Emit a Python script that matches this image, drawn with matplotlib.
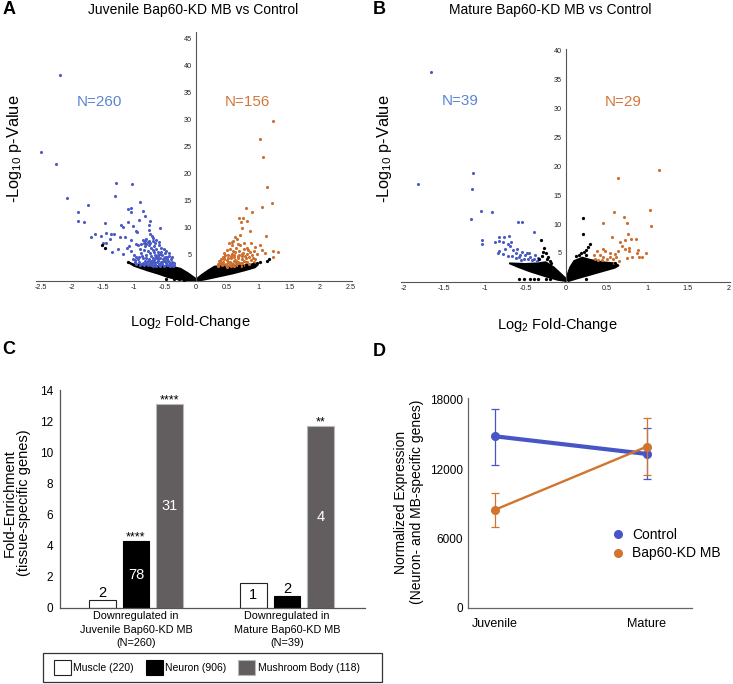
import matplotlib
matplotlib.use("Agg")
import matplotlib.pyplot as plt
from matplotlib.patches import Patch, Rectangle
from matplotlib.lines import Line2D

plt.rcParams['font.family'] = ['Liberation Sans', 'DejaVu Sans']
plt.rcParams['mathtext.default'] = 'regular'

W, H = 733, 684

# ---------------- Panel A data (Juvenile) ----------------
juv_down_lfc = [-2.19, -2.50, -2.25, -2.08, -1.29, -1.03, -1.30, -0.91, -1.74, -1.91, -1.90, -1.80,
                -1.46, -1.10, -1.05, -1.04, -0.86, -0.92, -0.82, -0.74, -1.10, -1.21, -1.17, -1.02,
                -0.58, -1.69, -1.63, -1.53, -1.45, -1.37, -1.32, -1.38, -1.50, -1.45, -1.35, -1.26,
                -1.22, -1.15, -1.05, -0.97, -0.95, -1.12, -1.08, -1.05, -0.75, -0.76, -0.74, -0.71,
                -0.97, -0.86, -0.82, -0.80, -0.76, -1.18, -1.00, -1.02, -0.96,
                -0.80, -0.78, -0.74, -0.70, -0.66, -0.68, -0.72, -0.76, -0.82, -0.84, -0.78, -0.74,
                -0.70, -0.64, -0.62, -0.60, -0.58, -0.66, -0.72, -0.80, -0.88, -0.92, -0.86, -0.82,
                -0.76, -0.70, -0.64, -0.58, -0.54, -0.50, -0.46, -0.52, -0.56, -0.62, -0.68, -0.74,
                -0.80, -0.86, -0.92, -0.96, -0.98, -0.90, -0.84, -0.78, -0.72, -0.66, -0.60, -0.54,
                -0.48, -0.44, -0.40, -0.42, -0.46, -0.52, -0.58, -0.64, -0.70, -0.50, -0.56, -0.50,
                -0.44, -0.40, -0.38, -0.36, -0.62, -0.68, -0.90, -0.94, -0.60, -0.56, -0.52, -0.48,
                -0.44, -0.64, -0.70, -0.84, -0.88, -0.79, -0.67, -0.61, -0.53, -0.47, -0.41, -0.39,
                -0.57, -0.63, -0.69, -0.75, -0.81, -0.87, -0.93, -0.99, -0.89, -0.83, -0.77, -0.71,
                -0.35, -0.37, -0.43, -0.49, -0.55, -0.61, -0.67, -0.73, -0.59, -0.65, -0.51, -0.45]
juv_down_p = [38.2, 24.0, 21.6, 15.4, 18.2, 18.0, 15.8, 14.6, 14.0, 12.8, 11.1, 10.9,
              10.7, 13.4, 13.6, 12.8, 13.0, 11.4, 12.0, 11.2, 10.9, 10.3, 10.0, 10.2,
              9.8, 8.1, 8.7, 8.3, 8.9, 8.8, 8.8, 7.8, 7.0, 7.0, 5.3, 5.9,
              8.2, 8.1, 7.6, 9.3, 9.0, 6.1, 6.5, 5.6, 10.3, 9.4, 8.7, 8.3,
              6.8, 7.6, 7.5, 6.9, 7.5, 5.0, 4.8, 4.0, 4.4,
              7.8, 7.2, 7.0, 7.4, 7.0, 6.5, 6.2, 6.6, 6.4, 5.8, 5.6, 5.2,
              5.8, 6.0, 5.4, 6.6, 5.0, 4.8, 4.6, 4.9, 5.2, 4.5, 4.2, 3.8,
              4.0, 4.2, 4.4, 4.2, 4.8, 4.4, 4.0, 3.8, 3.6, 3.8, 3.6, 3.4,
              3.3, 3.4, 3.5, 3.2, 3.9, 3.0, 3.0, 2.9, 3.0, 3.1, 3.2, 3.1,
              3.3, 3.5, 3.2, 2.8, 2.9, 2.8, 2.8, 2.8, 2.7, 3.7, 5.4, 5.2,
              4.6, 4.0, 3.6, 3.0, 4.9, 5.4, 6.0, 6.6, 7.2, 6.2, 6.0, 5.6,
              5.2, 7.6, 8.0, 7.0, 6.8, 3.6, 3.9, 4.7, 4.1, 4.5, 3.4, 4.4,
              3.4, 3.5, 3.9, 3.1, 4.3, 4.7, 4.0, 3.6, 3.2, 3.1, 3.7, 3.3,
              3.3, 2.7, 3.0, 4.2, 3.5, 4.0, 3.3, 3.7, 2.9, 4.3, 4.3, 3.8]

juv_up_lfc = [1.25, 1.04, 1.08, 1.14, 1.22, 1.06, 0.81, 0.90, 0.70, 0.76, 0.73, 0.82,
              0.75, 0.87, 1.13, 0.63, 0.71, 0.58, 1.25, 1.33, 1.24, 1.12,
              0.89, 0.95, 1.03, 1.06, 0.83, 0.79, 0.87, 0.92,
              0.36, 0.38, 0.40, 0.42, 0.44, 0.46, 0.48, 0.50, 0.52, 0.54, 0.55, 0.56,
              0.58, 0.60, 0.61, 0.62, 0.63, 0.64, 0.66, 0.67, 0.68, 0.69, 0.70, 0.71,
              0.72, 0.74, 0.75, 0.76, 0.77, 0.78, 0.80, 0.81, 0.82, 0.84, 0.85, 0.88,
              0.90, 0.93, 0.96, 0.99, 0.45, 0.50, 0.55, 0.58, 0.60, 0.66, 0.68, 0.53,
              0.47, 0.43, 0.39, 0.57, 0.65, 0.73, 0.79, 0.62, 0.50, 0.35, 0.59, 0.74,
              0.41, 0.49, 0.56, 0.64, 0.70, 0.77, 0.52, 0.45, 0.61, 0.67, 0.86, 0.94,
              0.37, 0.43, 0.51, 0.57, 0.63, 0.69, 0.75, 0.83]
juv_up_p = [29.7, 26.3, 23.0, 17.5, 14.4, 13.7, 13.5, 12.7, 11.7, 11.6, 11.0, 11.1,
            9.8, 9.3, 8.4, 8.2, 8.5, 7.3, 5.6, 5.3, 4.5, 5.1,
            7.0, 6.3, 6.6, 5.8, 6.1, 4.6, 5.3, 4.3,
            2.8, 3.4, 4.0, 3.0, 3.6, 4.4, 3.2, 3.9, 4.8, 2.9, 3.5, 4.2,
            5.0, 3.1, 3.8, 4.5, 5.4, 6.2, 2.9, 3.6, 4.2, 4.9, 5.6, 6.6,
            3.3, 4.0, 4.6, 5.2, 6.0, 7.0, 3.5, 4.2, 5.0, 5.7, 3.1, 3.9,
            4.8, 3.5, 4.1, 5.0, 5.2, 5.8, 6.0, 6.6, 7.4, 7.8, 6.8, 7.0,
            4.8, 4.4, 3.8, 3.3, 3.3, 2.8, 2.9, 2.7, 2.6, 3.2, 5.6, 5.0,
            3.3, 2.9, 2.7, 3.7, 3.2, 3.7, 3.5, 4.0, 4.9, 4.6, 4.4, 5.5,
            3.7, 3.1, 4.3, 4.6, 3.9, 3.4, 3.3, 3.6]

juv_ns_lfc = [-1.52, -1.47, -1.09, -0.48, -0.36, -0.28, -0.20, 0.98, 1.03, 1.17, 1.14, 0.92, 0.80, 0.70]
juv_ns_p = [6.6, 6.2, 3.5, 0.3, 0.3, 0.3, 0.2, 3.3, 3.6, 4.0, 3.8, 3.1, 2.9, 2.8]

# dense non-significant cloud (outline of the black region)
juv_cloud_left_lfc = [-1.10, -1.00, -0.80, -0.60, -0.40, -0.25, -0.12, 0.00, 0.00, -0.10, -0.30,
                      -0.45, -0.60, -0.80, -1.00]
juv_cloud_left_p = [3.5, 3.1, 2.9, 2.8, 2.7, 2.3, 1.4, 0.4, 0.05, 0.1, 0.3,
                    0.7, 1.3, 2.0, 2.8]
juv_cloud_right_lfc = [0.00, 0.10, 0.20, 0.30, 0.50, 0.80, 0.95, 1.00, 0.95, 0.80, 0.60, 0.40,
                       0.20, 0.05]
juv_cloud_right_p = [0.3, 1.2, 2.0, 2.7, 2.8, 2.9, 3.2, 3.0, 2.5, 2.0, 1.4, 0.9,
                     0.4, 0.05]

# ---------------- Panel B data (Mature) ----------------
mat_down_lfc = [-1.66, -1.82, -1.15, -1.16, -1.05, -0.91, -1.17, -0.59, -0.54, -0.39, -1.03, -1.03,
                -0.70, -0.76, -0.83, -0.83, -0.87, -0.77, -0.72, -0.68, -0.69, -0.75, -0.82, -0.84,
                -0.78, -0.72, -0.65, -0.60, -0.61, -0.58, -0.54, -0.55, -0.50, -0.44, -0.38, -0.40,
                -0.35, -0.47, -0.52, -0.62, -0.66, -0.48, -0.42, -0.36, -0.57, -0.45]
mat_down_p = [36.4, 17.0, 18.9, 16.1, 12.3, 12.1, 10.9, 10.4, 10.4, 8.7, 7.2, 6.5,
              8.0, 7.7, 7.7, 7.0, 6.8, 6.9, 6.5, 6.8, 6.2, 5.6, 5.3, 5.0,
              4.8, 4.5, 5.5, 5.7, 4.9, 4.3, 5.1, 3.8, 4.6, 4.3, 4.7, 3.9,
              4.1, 3.9, 3.9, 4.1, 4.4, 4.9, 3.7, 3.6, 4.7, 5.0]

mat_up_lfc = [1.15, 0.64, 1.03, 0.59, 0.71, 1.05, 0.75, 0.46, 0.57, 0.76, 0.67, 0.73,
              0.80, 0.86, 0.69, 0.73, 0.77, 0.77, 0.87, 0.81, 0.75, 0.60, 0.54, 0.48,
              0.45, 0.38, 0.35, 0.42, 0.46, 0.50, 0.54, 0.58, 0.62, 0.65, 0.59, 0.39,
              0.44, 0.36, 0.98, 0.94, 0.90, 0.89, 0.64]
mat_up_p = [19.4, 17.9, 12.4, 12.1, 11.2, 9.7, 10.1, 10.2, 7.8, 8.3, 6.8, 7.3,
            7.4, 7.4, 6.2, 5.6, 5.9, 5.4, 4.9, 4.2, 4.1, 4.8, 4.9, 5.4,
            5.6, 5.4, 4.6, 4.6, 4.3, 4.0, 4.3, 3.9, 4.2, 3.6, 3.2, 3.7,
            3.7, 4.0, 4.9, 4.2, 4.2, 5.5, 5.4]

mat_ns_lfc = [-0.31, -0.27, -0.28, -0.25, -0.22, -0.30, -0.24, -0.33, -0.20, -0.18,
              -0.58, -0.52, -0.44, -0.39, -0.35, -0.25, -0.20,
              0.21, 0.21, 0.30, 0.27, 0.25, 0.22, 0.19, 0.16, 0.24, 0.12, 0.60, 0.25]
mat_ns_p = [7.2, 5.9, 5.2, 4.9, 4.3, 4.5, 3.9, 4.0, 3.6, 3.2,
            0.4, 0.4, 0.4, 0.4, 0.4, 0.4, 0.4,
            11.1, 8.3, 6.6, 6.0, 5.5, 5.2, 4.9, 4.6, 4.7, 4.4, 3.3, 0.5]

mat_cloud_left_lfc = [-0.70, -0.50, -0.35, -0.25, -0.15, -0.05, 0.00, 0.00, -0.10, -0.25,
                      -0.45, -0.60]
mat_cloud_left_p = [3.2, 3.1, 3.2, 3.4, 2.5, 1.2, 0.5, 0.1, 0.3, 0.9,
                    1.8, 2.6]
mat_cloud_right_lfc = [0.00, 0.05, 0.10, 0.20, 0.30, 0.45, 0.60, 0.65, 0.60, 0.45, 0.30, 0.15, 0.03]
mat_cloud_right_p = [0.5, 2.5, 3.6, 4.2, 3.8, 3.4, 3.2, 2.8, 2.4, 1.8, 1.2, 0.6, 0.1]

# ---------------- Panel C data ----------------
tissues = ['Muscle (220)', 'Neuron (906)', 'Mushroom Body (118)']
comparisons = ['Downregulated in\nJuvenile Bap60-KD MB\n(N=260)',
               'Downregulated in\nMature Bap60-KD MB\n(N=39)']
fold_juvenile = [0.49, 4.28, 13.12]
fold_mature = [1.61, 0.77, 11.72]
count_juvenile = [2, 78, 31]
count_mature = [1, 2, 4]
signif_juvenile = ['', '****', '****']
signif_mature = ['', '', '**']
c_yticks = [0, 2, 4, 6, 8, 10, 12, 14]

# ---------------- Panel D data ----------------
stages = ['Juvenile', 'Mature']
control_mean = [14860, 13330]
control_upper = [17220, 15550]
control_lower = [12360, 11150]
bap60_mean = [8500, 13970]
bap60_upper = [9910, 16420]
bap60_lower = [7030, 11550]
d_yticks = [0, 6000, 12000, 18000]

# colours
BLUE_PT = '#4a5bc6'
ORANGE_PT = '#cc6e2c'
BLUE_TXT = '#5d84d6'
ORANGE_TXT = '#d4773a'
LINE_BLUE = '#4656c6'
LINE_ORANGE = '#d0742f'
MB_GRAY = '#625e5f'

fig = plt.figure(figsize=(W / 100, H / 100), dpi=100)


def rect(l, t, r, b):
    return [l / W, 1 - b / H, (r - l) / W, (b - t) / H]


def volcano(ax, down_x, down_y, up_x, up_y, ns_x, ns_y, clouds, xlim, ylim,
            xticks, xticklabels, yticks, n_down, n_up, n_down_pos, n_up_pos):
    ax.set_xlim(*xlim)
    ax.set_ylim(*ylim)
    for cx, cy in clouds:
        ax.fill(cx, cy, facecolor='black', edgecolor='black', linewidth=1.2, zorder=2)
    ax.scatter(down_x, down_y, s=5, color=BLUE_PT, linewidths=0, zorder=3)
    ax.scatter(up_x, up_y, s=5, color=ORANGE_PT, linewidths=0, zorder=3)
    ax.scatter(ns_x, ns_y, s=5.5, color='black', linewidths=0, zorder=4)
    for sp in ['top', 'right']:
        ax.spines[sp].set_visible(False)
    ax.spines['left'].set_position(('data', 0))
    for sp in ['left', 'bottom']:
        ax.spines[sp].set_color('#555555')
        ax.spines[sp].set_linewidth(0.8)
    ax.set_xticks(xticks)
    ax.set_xticklabels(xticklabels)
    ax.set_yticks(yticks)
    ax.set_yticklabels([str(v) for v in yticks])
    ax.tick_params(axis='x', length=0, labelsize=5.2, pad=2.5, labelcolor='#222222')
    ax.tick_params(axis='y', length=0, labelsize=5.2, pad=3, labelcolor='#222222')
    ax.text(n_down_pos[0], n_down_pos[1], 'N=%d' % n_down, color=BLUE_TXT, fontsize=11,
            ha='center', va='center')
    ax.text(n_up_pos[0], n_up_pos[1], 'N=%d' % n_up, color=ORANGE_TXT, fontsize=11,
            ha='center', va='center')
    ax.patch.set_alpha(0)


# ---- Panel A ----
axA = fig.add_axes(rect(36.0, 31.8, 352.2, 281.0))
volcano(axA, juv_down_lfc, juv_down_p, juv_up_lfc, juv_up_p, juv_ns_lfc, juv_ns_p,
        [(juv_cloud_left_lfc, juv_cloud_left_p), (juv_cloud_right_lfc, juv_cloud_right_p)],
        (-2.58, 2.52), (0, 46.2),
        [-2.5, -2, -1.5, -1, -0.5, 0, 0.5, 1, 1.5, 2, 2.5],
        ['-2.5', '-2', '-1.5', '-1', '-0.5', '0', '0.5', '1', '1.5', '2', '2.5'],
        [5, 10, 15, 20, 25, 30, 35, 40, 45], 260, 156, (-1.55, 33.2), (0.83, 33.2))

# ---- Panel B ----
axB = fig.add_axes(rect(401.1, 48.6, 730.1, 281.7))
volcano(axB, mat_down_lfc, mat_down_p, mat_up_lfc, mat_up_p, mat_ns_lfc, mat_ns_p,
        [(mat_cloud_left_lfc, mat_cloud_left_p), (mat_cloud_right_lfc, mat_cloud_right_p)],
        (-2.03, 2.02), (0, 40.4),
        [-2, -1.5, -1, -0.5, 0, 0.5, 1, 1.5, 2],
        ['-2', '-1.5', '-1', '-0.5', '0', '0.5', '1', '1.5', '2'],
        [5, 10, 15, 20, 25, 30, 35, 40], 39, 29, (-1.30, 31.3), (0.71, 31.2))

# titles / axis labels for volcano plots
fig.text(193 / W, 1 - 10 / H, 'Juvenile Bap60-KD MB vs Control', fontsize=10,
         ha='center', va='center')
fig.text(550 / W, 1 - 10 / H, 'Mature Bap60-KD MB vs Control', fontsize=10,
         ha='center', va='center')
fig.text(15 / W, 1 - 149 / H, '-Log$_{10}$ p-Value', fontsize=11.8, rotation=90,
         ha='center', va='center')
fig.text(385 / W, 1 - 149 / H, '-Log$_{10}$ p-Value', fontsize=11.8, rotation=90,
         ha='center', va='center')
fig.text(190 / W, 1 - 322 / H, 'Log$_2$ Fold-Change', fontsize=10.5, ha='center', va='center')
fig.text(557 / W, 1 - 325 / H, 'Log$_2$ Fold-Change', fontsize=10.5, ha='center', va='center')

# ---- Panel C ----
axC = fig.add_axes(rect(60, 389.9, 365, 607.7))
offsets = [-0.222, 0.0, 0.222]
bar_w = 0.175
face = ['white', 'black', MB_GRAY]
edge = ['#222222', 'black', '#b8b8b8']
for gi, (folds, counts, sigs) in enumerate([(fold_juvenile, count_juvenile, signif_juvenile),
                                             (fold_mature, count_mature, signif_mature)]):
    for ti in range(3):
        x = gi + offsets[ti]
        axC.bar(x, folds[ti], width=bar_w, color=face[ti], edgecolor=edge[ti], linewidth=0.8,
                zorder=2)
        if folds[ti] > 1.0:
            tc = 'black' if face[ti] == 'white' else 'white'
            axC.text(x, folds[ti] / 2, str(counts[ti]), color=tc, fontsize=10.5,
                     ha='center', va='center', zorder=3)
        else:
            axC.annotate(str(counts[ti]), (x, folds[ti]), xytext=(0, 2.2),
                         textcoords='offset points', ha='center', va='baseline',
                         fontsize=10.5, color='black')
        if sigs[ti]:
            axC.annotate(sigs[ti], (x, folds[ti]), xytext=(0, 0.3),
                         textcoords='offset points', ha='center', va='baseline',
                         fontsize=9, color='black')
axC.set_xlim(-0.503, 1.517)
axC.set_ylim(0, 14.05)
axC.set_yticks(c_yticks)
axC.set_yticklabels([str(v) for v in c_yticks])
axC.set_xticks([0, 1])
axC.set_xticklabels(comparisons, linespacing=1.45)
axC.tick_params(axis='y', length=0, labelsize=8.5, pad=5)
axC.tick_params(axis='x', length=0, labelsize=7.8, pad=2.5)
for sp in ['top', 'right']:
    axC.spines[sp].set_visible(False)
for sp in ['left', 'bottom']:
    axC.spines[sp].set_color('#555555')
    axC.spines[sp].set_linewidth(0.9)
fig.text(17 / W, 1 - 503 / H, 'Fold-Enrichment\n(tissue-specific genes)', fontsize=10.5,
         rotation=90, ha='center', va='center', linespacing=1.05)

# legend for C
fig.patches.append(Rectangle((43 / W, 1 - 682 / H), (382 - 43) / W, (682 - 653) / H,
                             transform=fig.transFigure, fill=False, edgecolor='#333333',
                             linewidth=0.9))
leg_handles = [Patch(facecolor=face[i], edgecolor=edge[i], linewidth=0.8) for i in range(3)]
fig.legend(leg_handles, tissues, loc='center left', bbox_to_anchor=(54 / W, 1 - 667.5 / H),
           ncol=3, frameon=False, fontsize=7.5, handlelength=1.6, handleheight=1.8,
           handletextpad=0.25, columnspacing=1.15, borderpad=0, borderaxespad=0)

# ---- Panel D ----
axD = fig.add_axes(rect(467.6, 398.3, 691.8, 608))
xs = [0, 1]
axD.errorbar(xs, control_mean,
             yerr=[[m - l for m, l in zip(control_mean, control_lower)],
                   [u - m for m, u in zip(control_mean, control_upper)]],
             color=LINE_BLUE, lw=3.0, marker='o', ms=5.5, capsize=3, elinewidth=0.9,
             capthick=0.9, ecolor=LINE_BLUE, zorder=3, label='Control')
axD.errorbar(xs, bap60_mean,
             yerr=[[m - l for m, l in zip(bap60_mean, bap60_lower)],
                   [u - m for m, u in zip(bap60_mean, bap60_upper)]],
             color=LINE_ORANGE, lw=1.7, marker='o', ms=5.5, capsize=3, elinewidth=0.9,
             capthick=0.9, ecolor=LINE_ORANGE, zorder=4, label='Bap60-KD MB')
axD.set_xlim(-0.18, 1.295)
axD.set_ylim(0, 18147)
axD.set_yticks(d_yticks)
axD.set_yticklabels([str(v) for v in d_yticks])
axD.set_xticks(xs)
axD.set_xticklabels(stages)
axD.tick_params(axis='y', length=0, labelsize=8.5, pad=3.2)
axD.tick_params(axis='x', length=0, labelsize=9, pad=7.5)
for sp in ['top', 'right']:
    axD.spines[sp].set_visible(False)
for sp in ['left', 'bottom']:
    axD.spines[sp].set_color('#666666')
    axD.spines[sp].set_linewidth(0.9)
fig.text(409 / W, 1 - 502 / H, 'Normalized Expression\n(Neuron- and MB-specific genes)',
         fontsize=10, rotation=90, ha='center', va='center', linespacing=1.15)
d_handles = [Line2D([], [], ls='none', marker='o', ms=5.5, color=LINE_BLUE),
             Line2D([], [], ls='none', marker='o', ms=5.5, color=LINE_ORANGE)]
fig.legend(d_handles, ['Control', 'Bap60-KD MB'], loc='center left',
           bbox_to_anchor=(614 / W, 1 - 544 / H), frameon=False, fontsize=10,
           handlelength=0.6, handletextpad=0.7, labelspacing=0.35, borderpad=0,
           borderaxespad=0)

# panel letters
for lab, (x, y) in zip(['A', 'B', 'C', 'D'], [(9, 10), (379, 10), (9, 350), (379, 351)]):
    fig.text(x / W, 1 - y / H, lab, fontsize=13, fontweight='bold', ha='center', va='center')

fig.savefig('out.png', dpi=100)
